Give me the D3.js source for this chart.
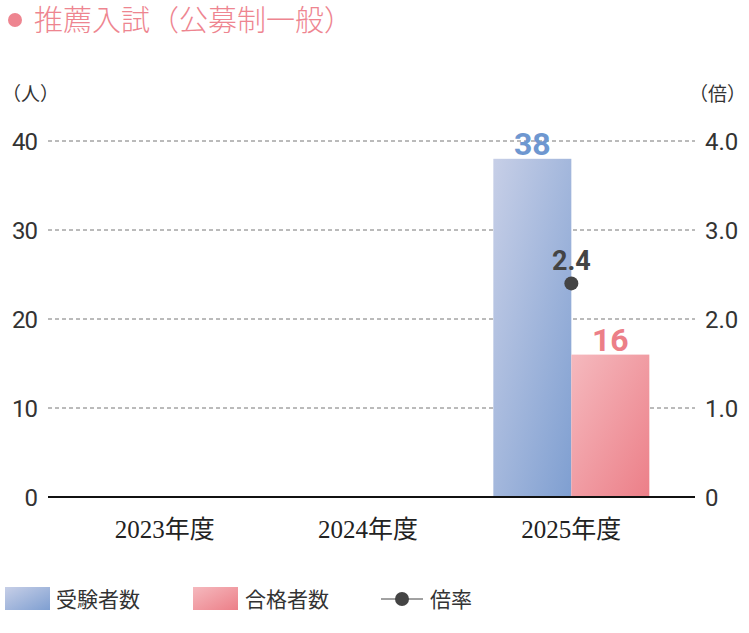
<!DOCTYPE html>
<html><head><meta charset="utf-8">
<script src="https://cdn.jsdelivr.net/npm/d3@7"></script>
<style>body{margin:0;background:#fff}svg{display:block}</style>
</head><body>
<svg id="c" width="749" height="633"></svg>
<script>
var years = ["2023年度", "2024年度", "2025年度"];
var applicants = [null, null, 38];
var passed = [null, null, 16];
var ratio = [null, null, 2.4];
var leftTicks = [0, 10, 20, 30, 40];
var rightTicks = [0, 1, 2, 3, 4];

var svg = d3.select("#c");
var cjk = "'Noto Sans CJK JP', sans-serif";
var num = "Roboto, 'Noto Sans CJK JP', sans-serif";
var defs = svg.append("defs");
function grad(id, a, b) {
    var g = defs.append("linearGradient").attr("id", id)
        .attr("x1", "0").attr("y1", "0").attr("x2", "1").attr("y2", "1");
    g.append("stop").attr("offset", "0").attr("stop-color", a);
    g.append("stop").attr("offset", "1").attr("stop-color", b);
}
grad("gb", "#c7cfe7", "#7f9fd1");
grad("gp", "#f5b9be", "#ec7f88");

// title
svg.append("circle").attr("cx", 15).attr("cy", 20).attr("r", 7).attr("fill", "#ee8590");
svg.append("text").attr("x", 34).attr("y", 31).attr("fill", "#ee8590")
    .attr("font-family", cjk).attr("font-weight", 300).attr("font-size", 29).text("推薦入試（公募制一般）");

var x = d3.scaleBand().domain(years).range([63, 673]).padding(0);
var y = d3.scaleLinear().domain([0, 40]).range([497, 141]);
var y2 = d3.scaleLinear().domain([0, 4]).range([497, 141]);

svg.append("text").attr("x", 2).attr("y", 101).attr("font-family", cjk).attr("font-size", 19).attr("fill", "#333").text("（人）");
svg.append("text").attr("x", 746).attr("y", 101).attr("text-anchor", "end").attr("font-family", cjk).attr("font-size", 19).attr("fill", "#333").text("（倍）");

// grid
svg.selectAll(".g").data(leftTicks.slice(1)).join("line")
    .attr("x1", 48).attr("x2", 695).attr("y1", d => y(d)).attr("y2", d => y(d))
    .attr("stroke", "#777").attr("stroke-dasharray", "4,3");

svg.selectAll(".lt").data(leftTicks).join("text")
    .attr("x", 38).attr("y", d => y(d) + 9).attr("text-anchor", "end")
    .attr("font-family", num).attr("font-size", 24).attr("fill", "#333").attr("textLength", d => d === 0 ? null : 26).text(d => d);
svg.selectAll(".rt").data(rightTicks).join("text")
    .attr("x", 705).attr("y", d => y2(d) + 9)
    .attr("font-family", num).attr("font-size", 24).attr("fill", "#333").text(d => d === 0 ? "0" : d.toFixed(1));

var bw = 78;
years.forEach(function (yr, i) {
    var cx = x(yr) + x.bandwidth() / 2;
    if (applicants[i] != null) {
        svg.append("rect").attr("x", cx - bw).attr("y", y(applicants[i])).attr("width", bw)
            .attr("height", y(0) - y(applicants[i])).attr("fill", "url(#gb)");
        svg.append("text").attr("x", cx - bw / 2).attr("y", y(applicants[i]) - 4).attr("text-anchor", "middle")
            .attr("font-family", num).attr("font-weight", "bold").attr("font-size", 32).attr("fill", "#6e97d0").text(applicants[i]);
    }
    if (passed[i] != null) {
        svg.append("rect").attr("x", cx).attr("y", y(passed[i])).attr("width", bw)
            .attr("height", y(0) - y(passed[i])).attr("fill", "url(#gp)");
        svg.append("text").attr("x", cx + bw / 2).attr("y", y(passed[i]) - 4).attr("text-anchor", "middle")
            .attr("font-family", num).attr("font-weight", "bold").attr("font-size", 32).attr("fill", "#ec7f88").text(passed[i]);
    }
    if (ratio[i] != null) {
        svg.append("circle").attr("cx", cx).attr("cy", y2(ratio[i])).attr("r", 7).attr("fill", "#444");
        svg.append("text").attr("x", cx).attr("y", y2(ratio[i]) - 13).attr("text-anchor", "middle")
            .attr("font-family", num).attr("font-weight", "bold").attr("font-size", 27).attr("fill", "#444").text(ratio[i]);
    }
    svg.append("text").attr("x", cx).attr("y", 538).attr("text-anchor", "middle")
        .attr("font-family", "'Liberation Serif', 'Noto Sans CJK JP', serif").attr("font-size", 25).attr("fill", "#222").text(yr);
});

svg.append("line").attr("x1", 48).attr("x2", 695).attr("y1", 497).attr("y2", 497).attr("stroke", "#111").attr("stroke-width", 2);

// legend
svg.append("rect").attr("x", 5).attr("y", 587).attr("width", 45).attr("height", 23).attr("fill", "url(#gb)");
svg.append("text").attr("x", 56).attr("y", 607).attr("font-family", cjk).attr("font-size", 21).attr("fill", "#333").text("受験者数");
svg.append("rect").attr("x", 193).attr("y", 587).attr("width", 45).attr("height", 23).attr("fill", "url(#gp)");
svg.append("text").attr("x", 245).attr("y", 607).attr("font-family", cjk).attr("font-size", 21).attr("fill", "#333").text("合格者数");
svg.append("line").attr("x1", 381).attr("x2", 423).attr("y1", 599).attr("y2", 599).attr("stroke", "#444");
svg.append("circle").attr("cx", 402).attr("cy", 599).attr("r", 7).attr("fill", "#444");
svg.append("text").attr("x", 430).attr("y", 607).attr("font-family", cjk).attr("font-size", 21).attr("fill", "#333").text("倍率");
</script>
</body></html>
